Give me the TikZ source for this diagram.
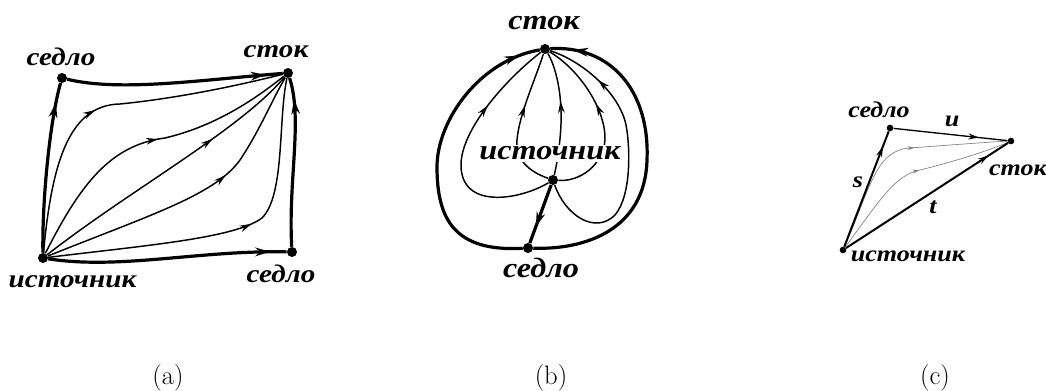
\documentclass[tikz,border=0pt]{standalone}
\usepackage{fontspec}
\newfontfamily\cyrfont{Liberation Serif}[FakeStretch=1.15]
\usetikzlibrary{arrows.meta,decorations.markings}
\begin{document}
\begin{tikzpicture}[x=0.75pt,y=-0.75pt,
  dot/.style={circle,fill=black,inner sep=0pt,minimum size=#1},
  thk/.style={line width=2.4pt},
  thn/.style={line width=1.1pt},
  marr/.style={postaction={decorate},decoration={markings,mark=at position #1 with {\arrow{Stealth[length=9pt,width=5pt]}}}},
  Marr/.style={postaction={decorate},decoration={markings,mark=at position #1 with {\arrow{Stealth[length=11pt,width=6.5pt]}}}},
  sarr/.style={postaction={decorate},decoration={markings,mark=at position #1 with {\arrow{Stealth[length=5pt,width=3pt]}}}},
  Sarr/.style={postaction={decorate},decoration={markings,mark=at position #1 with {\arrow{Stealth[length=8pt,width=4.5pt]}}}},
  laba/.style={font=\cyrfont\bfseries\itshape\fontsize{19}{22}\selectfont,inner sep=0pt,anchor=base},
  labb/.style={font=\cyrfont\bfseries\itshape\fontsize{21}{24}\selectfont,inner sep=0pt,anchor=base},
  labc/.style={font=\cyrfont\bfseries\itshape\fontsize{17}{20}\selectfont,inner sep=0pt,anchor=base},
  captext/.style={font=\fontsize{20}{24}\selectfont,inner sep=0pt,anchor=base}]
\useasboundingbox (0,0) rectangle (1046,391);

% ---------- (a) ----------
\node[dot=7.5pt] (aS) at (43,258) {};
\node[dot=7.5pt] (aA) at (62,78) {};
\node[dot=7.5pt] (aK) at (288,73) {};
\node[dot=7.5pt] (aB) at (292,252) {};
\draw[thk,Marr=0.88] (aS) .. controls (42,200) and (50,120) .. (aA);
\draw[thk,Marr=0.92] (aA) .. controls (120,92) and (200,80) .. (aK);
\draw[thk,Marr=0.93] (aS) .. controls (120,270) and (200,250) .. (aB);
\draw[thk,Marr=0.87] (aB) .. controls (288,180) and (303,120) .. (aK);
\draw[thn,marr=0.45] (aS) .. controls (52,160) and (70,105) .. (120,104) .. controls (180,98) and (240,85) .. (aK);
\draw[thn,marr=0.54] (aS) .. controls (80,185) and (110,145) .. (165,138) .. controls (220,125) and (260,95) .. (aK);
\draw[thn,marr=0.68] (aS) .. controls (130,190) and (240,130) .. (aK);
\draw[thn,marr=0.63] (aS) .. controls (150,215) and (215,195) .. (240,160) .. controls (260,130) and (272,100) .. (aK);
\draw[thn,marr=0.57] (aS) .. controls (150,245) and (235,238) .. (262,218) .. controls (285,195) and (278,120) .. (aK);
\node[laba] (laA) at (61,66) {седло};
\node[laba] (laK) at (276,58) {сток};
\node[laba] (laB) at (281,283) {седло};
\node[laba] (laS) at (72.5,288) {источник};
\node[captext] (capa) at (168,385) {(a)};

% ---------- (b) ----------
\node[dot=7.5pt] (bK) at (545,49) {};
\node[dot=7.5pt] (bQ) at (553,180) {};
\node[dot=7.5pt] (bD) at (528,248) {};
\draw[thk,Marr=0.93] (bD) .. controls (455,252) and (437,220) .. (437,167) .. controls (437,120) and (480,60) .. (bK);
\draw[thk,Marr=0.93] (bD) .. controls (585,250) and (645,230) .. (647,160) .. controls (650,90) and (610,45) .. (bK);
\draw[thk,Marr=0.72] (bQ) -- (bD);
\draw[thn,marr=0.7] (bQ) .. controls (520,200) and (461,210) .. (461,165) .. controls (461,130) and (505,80) .. (bK);
\draw[thn,marr=0.62] (bQ) .. controls (530,172) and (515,160) .. (517,140) .. controls (519,115) and (535,80) .. (bK);
\draw[thn,marr=0.6] (bQ) .. controls (558,160) and (562,130) .. (561,110) .. controls (560,80) and (552,60) .. (bK);
\draw[thn,marr=0.6] (bQ) .. controls (580,182) and (603,165) .. (605,140) .. controls (606,110) and (580,70) .. (bK);
\draw[thn,marr=0.8] (bQ) .. controls (565,215) and (595,235) .. (615,215) .. controls (632,195) and (630,145) .. (626,125) .. controls (620,95) and (585,62) .. (bK);
\node[labb,fill=white,inner sep=1pt] (lbQ) at (550,160) {источник};
\node[labb] (lbK) at (544,30) {сток};
\node[labb] (lbD) at (541,278) {седло};
\node[captext] (capb) at (551,385) {(b)};

% ---------- (c) ----------
\node[dot=5pt] (cS) at (843,250) {};
\node[dot=5pt] (cA) at (890,128) {};
\node[dot=5pt] (cK) at (1011,141) {};
\draw[gray,line width=0.5pt,sarr=0.58] (cS) .. controls (870,190) and (875,150) .. (910,148) .. controls (950,145) and (990,142) .. (cK);
\draw[gray,line width=0.5pt,sarr=0.54] (cS) .. controls (880,200) and (895,175) .. (920,170) .. controls (960,160) and (990,150) .. (cK);
\draw[line width=1.5pt,Sarr=0.87] (cS) -- (cA);
\draw[line width=1pt,Sarr=0.75] (cA) -- (cK);
\draw[line width=1.5pt,Sarr=0.88] (cS) -- (cK);
\node[labc] (lcA) at (879,118) {седло};
\node[labc] (lcK) at (1018,176) {сток};
\node[labc] (lcS) at (908,261.7) {источник};
\node[labc] (ls) at (858,188) {s};
\node[labc] (lt) at (933,214) {t};
\node[labc] (lu) at (952,126.7) {u};
\node[captext] (capc) at (935,385) {(c)};
\end{tikzpicture}
\end{document}
